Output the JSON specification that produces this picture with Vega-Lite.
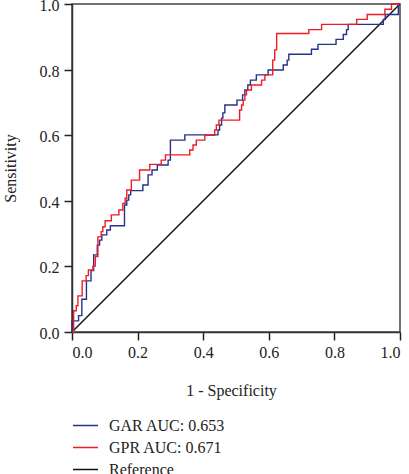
{
  "$schema": "https://vega.github.io/schema/vega-lite/v6.json",
  "autosize": {"type": "none"},
  "width": 328,
  "height": 328,
  "padding": {"left": 72, "top": 4, "right": 9, "bottom": 142},
  "background": "white",
  "config": {
    "font": "Liberation Serif",
    "view": {"stroke": "#444", "strokeWidth": 1.5},
    "axis": {
      "grid": false,
      "domainColor": "#333",
      "domainWidth": 1.5,
      "tickColor": "#222",
      "tickSize": 8,
      "tickWidth": 1.5,
      "labelFont": "Liberation Serif",
      "labelFontSize": 16,
      "labelColor": "#222",
      "labelPadding": 5,
      "titleFont": "Liberation Serif",
      "titleFontSize": 16,
      "titleFontWeight": "normal",
      "titleColor": "#222"
    },
    "legend": {
      "labelFont": "Liberation Serif",
      "labelFontSize": 16,
      "labelColor": "#222"
    }
  },
  "data": {
    "values": [
      {"s": "Reference", "x": 0, "y": 0},
      {"s": "Reference", "x": 1, "y": 1},
      {"s": "GAR AUC: 0.653", "x": 0, "y": 0},
      {"s": "GAR AUC: 0.653", "x": 0, "y": 0.034},
      {"s": "GAR AUC: 0.653", "x": 0.02, "y": 0.034},
      {"s": "GAR AUC: 0.653", "x": 0.02, "y": 0.05},
      {"s": "GAR AUC: 0.653", "x": 0.03, "y": 0.05},
      {"s": "GAR AUC: 0.653", "x": 0.03, "y": 0.1},
      {"s": "GAR AUC: 0.653", "x": 0.044, "y": 0.1},
      {"s": "GAR AUC: 0.653", "x": 0.044, "y": 0.156},
      {"s": "GAR AUC: 0.653", "x": 0.058, "y": 0.156},
      {"s": "GAR AUC: 0.653", "x": 0.058, "y": 0.187},
      {"s": "GAR AUC: 0.653", "x": 0.066, "y": 0.187},
      {"s": "GAR AUC: 0.653", "x": 0.066, "y": 0.235},
      {"s": "GAR AUC: 0.653", "x": 0.077, "y": 0.235},
      {"s": "GAR AUC: 0.653", "x": 0.077, "y": 0.265},
      {"s": "GAR AUC: 0.653", "x": 0.084, "y": 0.265},
      {"s": "GAR AUC: 0.653", "x": 0.084, "y": 0.28},
      {"s": "GAR AUC: 0.653", "x": 0.091, "y": 0.28},
      {"s": "GAR AUC: 0.653", "x": 0.091, "y": 0.296},
      {"s": "GAR AUC: 0.653", "x": 0.106, "y": 0.296},
      {"s": "GAR AUC: 0.653", "x": 0.106, "y": 0.311},
      {"s": "GAR AUC: 0.653", "x": 0.117, "y": 0.311},
      {"s": "GAR AUC: 0.653", "x": 0.117, "y": 0.324},
      {"s": "GAR AUC: 0.653", "x": 0.16, "y": 0.324},
      {"s": "GAR AUC: 0.653", "x": 0.16, "y": 0.387},
      {"s": "GAR AUC: 0.653", "x": 0.167, "y": 0.387},
      {"s": "GAR AUC: 0.653", "x": 0.167, "y": 0.402},
      {"s": "GAR AUC: 0.653", "x": 0.173, "y": 0.402},
      {"s": "GAR AUC: 0.653", "x": 0.173, "y": 0.418},
      {"s": "GAR AUC: 0.653", "x": 0.179, "y": 0.418},
      {"s": "GAR AUC: 0.653", "x": 0.179, "y": 0.431},
      {"s": "GAR AUC: 0.653", "x": 0.216, "y": 0.431},
      {"s": "GAR AUC: 0.653", "x": 0.216, "y": 0.448},
      {"s": "GAR AUC: 0.653", "x": 0.232, "y": 0.448},
      {"s": "GAR AUC: 0.653", "x": 0.232, "y": 0.479},
      {"s": "GAR AUC: 0.653", "x": 0.244, "y": 0.479},
      {"s": "GAR AUC: 0.653", "x": 0.244, "y": 0.494},
      {"s": "GAR AUC: 0.653", "x": 0.26, "y": 0.494},
      {"s": "GAR AUC: 0.653", "x": 0.26, "y": 0.509},
      {"s": "GAR AUC: 0.653", "x": 0.293, "y": 0.509},
      {"s": "GAR AUC: 0.653", "x": 0.293, "y": 0.524},
      {"s": "GAR AUC: 0.653", "x": 0.3, "y": 0.524},
      {"s": "GAR AUC: 0.653", "x": 0.3, "y": 0.585},
      {"s": "GAR AUC: 0.653", "x": 0.344, "y": 0.585},
      {"s": "GAR AUC: 0.653", "x": 0.344, "y": 0.601},
      {"s": "GAR AUC: 0.653", "x": 0.445, "y": 0.601},
      {"s": "GAR AUC: 0.653", "x": 0.445, "y": 0.616},
      {"s": "GAR AUC: 0.653", "x": 0.45, "y": 0.616},
      {"s": "GAR AUC: 0.653", "x": 0.45, "y": 0.631},
      {"s": "GAR AUC: 0.653", "x": 0.456, "y": 0.631},
      {"s": "GAR AUC: 0.653", "x": 0.456, "y": 0.652},
      {"s": "GAR AUC: 0.653", "x": 0.46, "y": 0.652},
      {"s": "GAR AUC: 0.653", "x": 0.46, "y": 0.668},
      {"s": "GAR AUC: 0.653", "x": 0.466, "y": 0.668},
      {"s": "GAR AUC: 0.653", "x": 0.466, "y": 0.692},
      {"s": "GAR AUC: 0.653", "x": 0.503, "y": 0.692},
      {"s": "GAR AUC: 0.653", "x": 0.503, "y": 0.707},
      {"s": "GAR AUC: 0.653", "x": 0.52, "y": 0.707},
      {"s": "GAR AUC: 0.653", "x": 0.52, "y": 0.723},
      {"s": "GAR AUC: 0.653", "x": 0.527, "y": 0.723},
      {"s": "GAR AUC: 0.653", "x": 0.527, "y": 0.738},
      {"s": "GAR AUC: 0.653", "x": 0.536, "y": 0.738},
      {"s": "GAR AUC: 0.653", "x": 0.536, "y": 0.753},
      {"s": "GAR AUC: 0.653", "x": 0.544, "y": 0.753},
      {"s": "GAR AUC: 0.653", "x": 0.544, "y": 0.768},
      {"s": "GAR AUC: 0.653", "x": 0.562, "y": 0.768},
      {"s": "GAR AUC: 0.653", "x": 0.562, "y": 0.784},
      {"s": "GAR AUC: 0.653", "x": 0.598, "y": 0.784},
      {"s": "GAR AUC: 0.653", "x": 0.598, "y": 0.799},
      {"s": "GAR AUC: 0.653", "x": 0.644, "y": 0.799},
      {"s": "GAR AUC: 0.653", "x": 0.644, "y": 0.814},
      {"s": "GAR AUC: 0.653", "x": 0.656, "y": 0.814},
      {"s": "GAR AUC: 0.653", "x": 0.656, "y": 0.829},
      {"s": "GAR AUC: 0.653", "x": 0.661, "y": 0.829},
      {"s": "GAR AUC: 0.653", "x": 0.661, "y": 0.847},
      {"s": "GAR AUC: 0.653", "x": 0.73, "y": 0.847},
      {"s": "GAR AUC: 0.653", "x": 0.73, "y": 0.862},
      {"s": "GAR AUC: 0.653", "x": 0.75, "y": 0.862},
      {"s": "GAR AUC: 0.653", "x": 0.75, "y": 0.877},
      {"s": "GAR AUC: 0.653", "x": 0.805, "y": 0.877},
      {"s": "GAR AUC: 0.653", "x": 0.805, "y": 0.892},
      {"s": "GAR AUC: 0.653", "x": 0.827, "y": 0.892},
      {"s": "GAR AUC: 0.653", "x": 0.827, "y": 0.907},
      {"s": "GAR AUC: 0.653", "x": 0.837, "y": 0.907},
      {"s": "GAR AUC: 0.653", "x": 0.837, "y": 0.922},
      {"s": "GAR AUC: 0.653", "x": 0.842, "y": 0.922},
      {"s": "GAR AUC: 0.653", "x": 0.842, "y": 0.938},
      {"s": "GAR AUC: 0.653", "x": 0.949, "y": 0.938},
      {"s": "GAR AUC: 0.653", "x": 0.949, "y": 0.953},
      {"s": "GAR AUC: 0.653", "x": 0.955, "y": 0.953},
      {"s": "GAR AUC: 0.653", "x": 0.955, "y": 0.968},
      {"s": "GAR AUC: 0.653", "x": 0.995, "y": 0.968},
      {"s": "GAR AUC: 0.653", "x": 0.995, "y": 1},
      {"s": "GAR AUC: 0.653", "x": 1, "y": 1},
      {"s": "GPR AUC: 0.671", "x": 0, "y": 0},
      {"s": "GPR AUC: 0.671", "x": 0.005, "y": 0},
      {"s": "GPR AUC: 0.671", "x": 0.005, "y": 0.065},
      {"s": "GPR AUC: 0.671", "x": 0.013, "y": 0.065},
      {"s": "GPR AUC: 0.671", "x": 0.013, "y": 0.08},
      {"s": "GPR AUC: 0.671", "x": 0.018, "y": 0.08},
      {"s": "GPR AUC: 0.671", "x": 0.018, "y": 0.11},
      {"s": "GPR AUC: 0.671", "x": 0.031, "y": 0.11},
      {"s": "GPR AUC: 0.671", "x": 0.031, "y": 0.156},
      {"s": "GPR AUC: 0.671", "x": 0.043, "y": 0.156},
      {"s": "GPR AUC: 0.671", "x": 0.043, "y": 0.172},
      {"s": "GPR AUC: 0.671", "x": 0.05, "y": 0.172},
      {"s": "GPR AUC: 0.671", "x": 0.05, "y": 0.189},
      {"s": "GPR AUC: 0.671", "x": 0.064, "y": 0.189},
      {"s": "GPR AUC: 0.671", "x": 0.064, "y": 0.201},
      {"s": "GPR AUC: 0.671", "x": 0.071, "y": 0.201},
      {"s": "GPR AUC: 0.671", "x": 0.071, "y": 0.23},
      {"s": "GPR AUC: 0.671", "x": 0.079, "y": 0.23},
      {"s": "GPR AUC: 0.671", "x": 0.079, "y": 0.29},
      {"s": "GPR AUC: 0.671", "x": 0.089, "y": 0.29},
      {"s": "GPR AUC: 0.671", "x": 0.089, "y": 0.306},
      {"s": "GPR AUC: 0.671", "x": 0.094, "y": 0.306},
      {"s": "GPR AUC: 0.671", "x": 0.094, "y": 0.321},
      {"s": "GPR AUC: 0.671", "x": 0.101, "y": 0.321},
      {"s": "GPR AUC: 0.671", "x": 0.101, "y": 0.339},
      {"s": "GPR AUC: 0.671", "x": 0.12, "y": 0.339},
      {"s": "GPR AUC: 0.671", "x": 0.12, "y": 0.357},
      {"s": "GPR AUC: 0.671", "x": 0.143, "y": 0.357},
      {"s": "GPR AUC: 0.671", "x": 0.143, "y": 0.372},
      {"s": "GPR AUC: 0.671", "x": 0.155, "y": 0.372},
      {"s": "GPR AUC: 0.671", "x": 0.155, "y": 0.392},
      {"s": "GPR AUC: 0.671", "x": 0.162, "y": 0.392},
      {"s": "GPR AUC: 0.671", "x": 0.162, "y": 0.408},
      {"s": "GPR AUC: 0.671", "x": 0.167, "y": 0.408},
      {"s": "GPR AUC: 0.671", "x": 0.167, "y": 0.433},
      {"s": "GPR AUC: 0.671", "x": 0.181, "y": 0.433},
      {"s": "GPR AUC: 0.671", "x": 0.181, "y": 0.463},
      {"s": "GPR AUC: 0.671", "x": 0.206, "y": 0.463},
      {"s": "GPR AUC: 0.671", "x": 0.206, "y": 0.494},
      {"s": "GPR AUC: 0.671", "x": 0.237, "y": 0.494},
      {"s": "GPR AUC: 0.671", "x": 0.237, "y": 0.511},
      {"s": "GPR AUC: 0.671", "x": 0.272, "y": 0.511},
      {"s": "GPR AUC: 0.671", "x": 0.272, "y": 0.524},
      {"s": "GPR AUC: 0.671", "x": 0.285, "y": 0.524},
      {"s": "GPR AUC: 0.671", "x": 0.285, "y": 0.54},
      {"s": "GPR AUC: 0.671", "x": 0.359, "y": 0.54},
      {"s": "GPR AUC: 0.671", "x": 0.359, "y": 0.555},
      {"s": "GPR AUC: 0.671", "x": 0.369, "y": 0.555},
      {"s": "GPR AUC: 0.671", "x": 0.369, "y": 0.57},
      {"s": "GPR AUC: 0.671", "x": 0.379, "y": 0.57},
      {"s": "GPR AUC: 0.671", "x": 0.379, "y": 0.585},
      {"s": "GPR AUC: 0.671", "x": 0.405, "y": 0.585},
      {"s": "GPR AUC: 0.671", "x": 0.405, "y": 0.6},
      {"s": "GPR AUC: 0.671", "x": 0.435, "y": 0.6},
      {"s": "GPR AUC: 0.671", "x": 0.435, "y": 0.616},
      {"s": "GPR AUC: 0.671", "x": 0.44, "y": 0.616},
      {"s": "GPR AUC: 0.671", "x": 0.44, "y": 0.631},
      {"s": "GPR AUC: 0.671", "x": 0.448, "y": 0.631},
      {"s": "GPR AUC: 0.671", "x": 0.448, "y": 0.646},
      {"s": "GPR AUC: 0.671", "x": 0.511, "y": 0.646},
      {"s": "GPR AUC: 0.671", "x": 0.511, "y": 0.677},
      {"s": "GPR AUC: 0.671", "x": 0.517, "y": 0.677},
      {"s": "GPR AUC: 0.671", "x": 0.517, "y": 0.692},
      {"s": "GPR AUC: 0.671", "x": 0.522, "y": 0.692},
      {"s": "GPR AUC: 0.671", "x": 0.522, "y": 0.707},
      {"s": "GPR AUC: 0.671", "x": 0.527, "y": 0.707},
      {"s": "GPR AUC: 0.671", "x": 0.527, "y": 0.723},
      {"s": "GPR AUC: 0.671", "x": 0.532, "y": 0.723},
      {"s": "GPR AUC: 0.671", "x": 0.532, "y": 0.738},
      {"s": "GPR AUC: 0.671", "x": 0.547, "y": 0.738},
      {"s": "GPR AUC: 0.671", "x": 0.547, "y": 0.753},
      {"s": "GPR AUC: 0.671", "x": 0.578, "y": 0.753},
      {"s": "GPR AUC: 0.671", "x": 0.578, "y": 0.768},
      {"s": "GPR AUC: 0.671", "x": 0.588, "y": 0.768},
      {"s": "GPR AUC: 0.671", "x": 0.588, "y": 0.784},
      {"s": "GPR AUC: 0.671", "x": 0.612, "y": 0.784},
      {"s": "GPR AUC: 0.671", "x": 0.612, "y": 0.829},
      {"s": "GPR AUC: 0.671", "x": 0.618, "y": 0.829},
      {"s": "GPR AUC: 0.671", "x": 0.618, "y": 0.86},
      {"s": "GPR AUC: 0.671", "x": 0.624, "y": 0.86},
      {"s": "GPR AUC: 0.671", "x": 0.624, "y": 0.91},
      {"s": "GPR AUC: 0.671", "x": 0.722, "y": 0.91},
      {"s": "GPR AUC: 0.671", "x": 0.722, "y": 0.922},
      {"s": "GPR AUC: 0.671", "x": 0.761, "y": 0.922},
      {"s": "GPR AUC: 0.671", "x": 0.761, "y": 0.938},
      {"s": "GPR AUC: 0.671", "x": 0.868, "y": 0.938},
      {"s": "GPR AUC: 0.671", "x": 0.868, "y": 0.953},
      {"s": "GPR AUC: 0.671", "x": 0.9, "y": 0.953},
      {"s": "GPR AUC: 0.671", "x": 0.9, "y": 0.968},
      {"s": "GPR AUC: 0.671", "x": 0.954, "y": 0.968},
      {"s": "GPR AUC: 0.671", "x": 0.954, "y": 0.984},
      {"s": "GPR AUC: 0.671", "x": 0.974, "y": 0.984},
      {"s": "GPR AUC: 0.671", "x": 0.974, "y": 1},
      {"s": "GPR AUC: 0.671", "x": 1, "y": 1}
    ]
  },
  "mark": {"type": "line", "strokeWidth": 1.4, "clip": false},
  "encoding": {
    "x": {
      "field": "x",
      "type": "quantitative",
      "scale": {"domain": [0, 1], "nice": false, "zero": false},
      "axis": {
        "values": [0, 0.2, 0.4, 0.6, 0.8, 1],
        "format": ".1f",
        "labelPadding": 4,
        "title": "1 - Specificity",
        "titleX": 159,
        "titleY": 58,
        "titleBaseline": "middle"
      }
    },
    "y": {
      "field": "y",
      "type": "quantitative",
      "scale": {"domain": [0, 1], "nice": false, "zero": false},
      "axis": {
        "values": [0, 0.2, 0.4, 0.6, 0.8, 1],
        "format": ".1f",
        "labelOffset": 1.5,
        "title": "Sensitivity",
        "titleX": -62,
        "titleBaseline": "middle"
      }
    },
    "color": {
      "field": "s",
      "type": "nominal",
      "scale": {
        "domain": ["GAR AUC: 0.653", "GPR AUC: 0.671", "Reference"],
        "range": ["#27328a", "#ee1d25", "#111111"]
      },
      "legend": {
        "title": null,
        "orient": "none",
        "legendX": 0,
        "legendY": 408,
        "symbolType": "stroke",
        "symbolSize": 625,
        "symbolStrokeWidth": 1.5,
        "labelOffset": 10,
        "rowPadding": -1.5,
        "padding": 0
      }
    },
    "order": [{"field": "x", "type": "quantitative"}, {"field": "y", "type": "quantitative"}]
  }
}
